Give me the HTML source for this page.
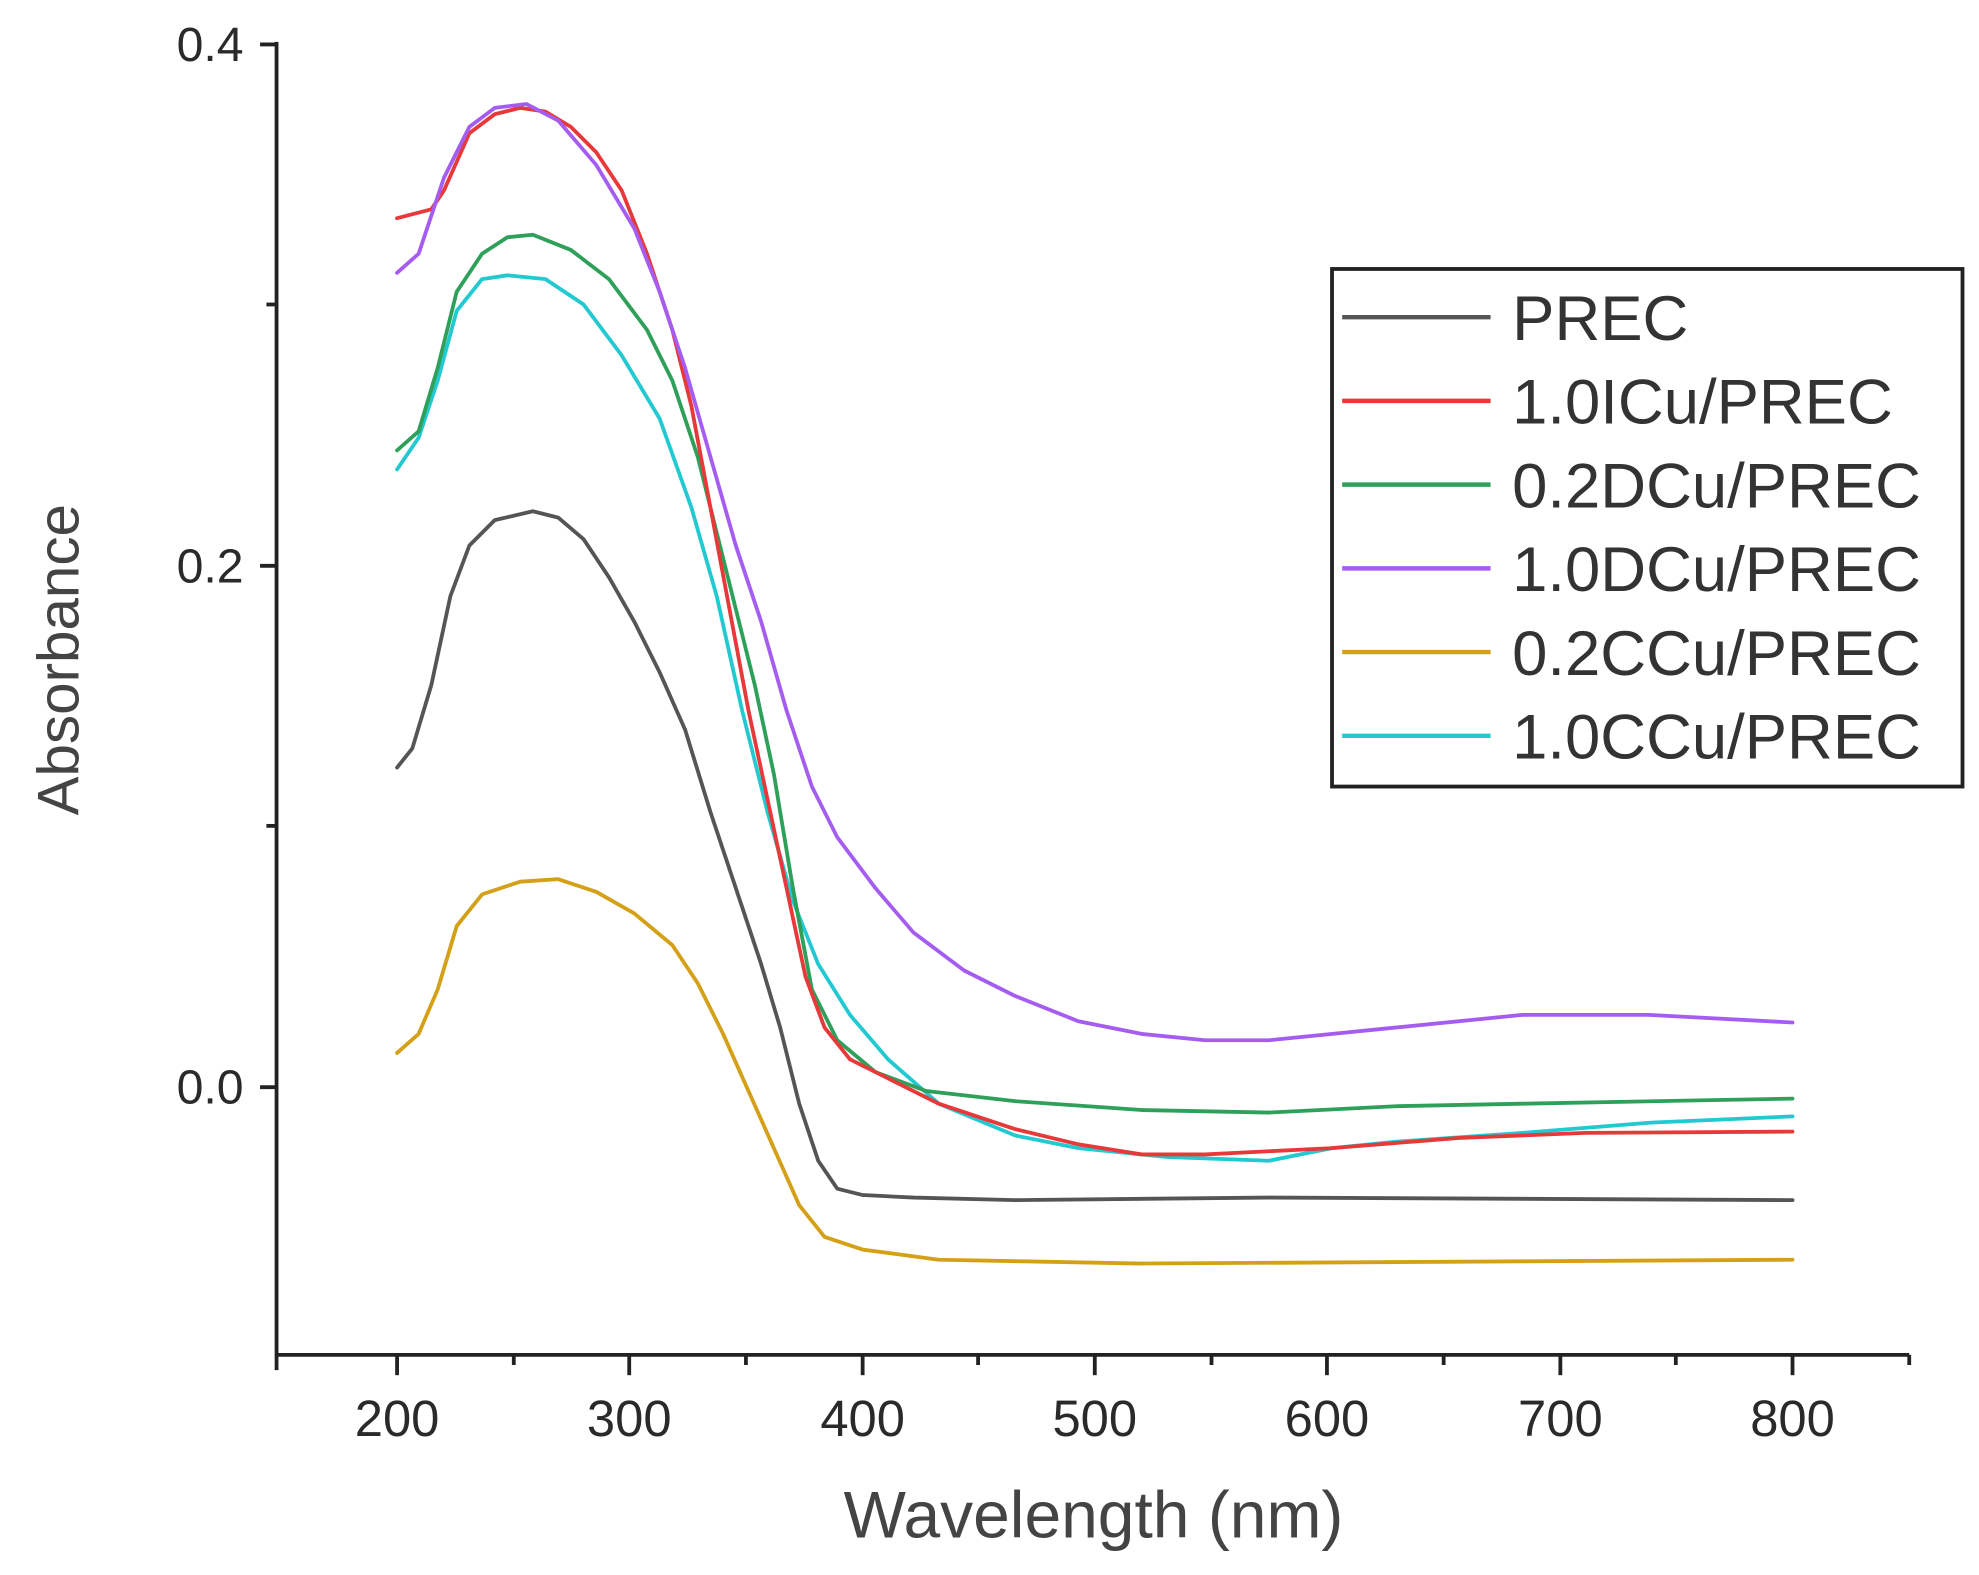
<!DOCTYPE html>
<html><head><meta charset="utf-8"><style>
html,body{margin:0;padding:0;background:#fff;}
svg{display:block;}
text{font-family:"Liberation Sans",sans-serif;}
</style></head><body>
<svg width="1979" height="1575" viewBox="0 0 1560 1241.5" xmlns="http://www.w3.org/2000/svg">
<rect width="1560" height="1241.5" fill="#fff"/>
<g stroke="#222" stroke-width="3" fill="none">
<line x1="218" y1="33" x2="218" y2="1069"/>
<line x1="217" y1="1068" x2="1505" y2="1068"/>
<line x1="205" y1="35" x2="218" y2="35"/>
<line x1="205" y1="446" x2="218" y2="446"/>
<line x1="205" y1="857" x2="218" y2="857"/>
<line x1="210" y1="240" x2="218" y2="240"/>
<line x1="210" y1="651" x2="218" y2="651"/>
<line x1="218" y1="1068" x2="218" y2="1080"/>
<line x1="313" y1="1068" x2="313" y2="1084"/><line x1="496" y1="1068" x2="496" y2="1084"/><line x1="680" y1="1068" x2="680" y2="1084"/><line x1="863" y1="1068" x2="863" y2="1084"/><line x1="1046" y1="1068" x2="1046" y2="1084"/><line x1="1230" y1="1068" x2="1230" y2="1084"/><line x1="1413" y1="1068" x2="1413" y2="1084"/>
<line x1="405" y1="1068" x2="405" y2="1076"/><line x1="588" y1="1068" x2="588" y2="1076"/><line x1="771" y1="1068" x2="771" y2="1076"/><line x1="955" y1="1068" x2="955" y2="1076"/><line x1="1138" y1="1068" x2="1138" y2="1076"/><line x1="1321" y1="1068" x2="1321" y2="1076"/>
<line x1="1505" y1="1068" x2="1505" y2="1076"/>
</g>
<g font-size="38" fill="#2a2a2a" text-anchor="end">
<text x="192" y="48">0.4</text><text x="192" y="459">0.2</text><text x="192" y="870">0.0</text>
</g>
<g font-size="40" fill="#2a2a2a" text-anchor="middle">
<text x="313" y="1132">200</text><text x="496" y="1132">300</text><text x="680" y="1132">400</text><text x="863" y="1132">500</text><text x="1046" y="1132">600</text><text x="1230" y="1132">700</text><text x="1413" y="1132">800</text>
</g>
<text x="862" y="1212" font-size="52" fill="#444" text-anchor="middle">Wavelength (nm)</text>
<text transform="translate(62,520) rotate(-90)" font-size="46" fill="#444" text-anchor="middle">Absorbance</text>
<g fill="none" stroke-width="3" stroke-linejoin="round" stroke-linecap="round">
<polyline stroke="#555" points="313,605 325,590 340,540 355,470 370,430 390,410 420,403 440,408 460,425 480,455 500,490 520,530 540,575 560,640 580,700 600,760 615,810 630,870 645,915 660,937 680,942 720,944 800,946 1000,944 1413,946"/>
<polyline stroke="#d4a017" points="313,830 330,815 345,780 360,730 380,705 410,695 440,693 470,703 500,720 530,745 550,775 570,815 590,860 610,905 630,950 650,975 680,985 740,993 900,996 1413,993"/>
<polyline stroke="#22c9d0" points="313,370 330,345 345,300 360,245 380,220 400,217 430,220 460,240 490,280 520,330 545,400 565,470 585,560 605,640 625,710 645,760 670,800 700,835 740,870 800,895 850,905 920,912 1000,915 1050,905 1100,900 1200,893 1300,885 1413,880"/>
<polyline stroke="#2ea05a" points="313,355 330,340 345,290 360,230 380,200 400,187 420,185 450,197 480,220 510,260 530,300 550,360 565,420 580,480 595,540 610,610 625,700 640,780 660,820 690,845 730,860 800,868 900,875 1000,877 1100,872 1200,870 1413,866"/>
<polyline stroke="#e8393a" points="313,172 340,165 350,150 370,105 390,90 410,85 430,88 450,100 470,120 490,150 510,200 530,260 545,320 560,400 575,480 590,560 605,630 620,700 635,770 650,810 670,835 700,850 740,870 800,890 850,902 900,910 950,910 1050,905 1150,897 1250,893 1413,892"/>
<polyline stroke="#a55cf0" points="313,215 330,200 350,140 370,100 390,85 415,82 440,95 470,130 500,180 520,230 540,290 560,360 580,430 600,490 620,560 640,620 660,660 690,700 720,735 760,765 800,785 850,805 900,815 950,820 1000,820 1100,810 1200,800 1300,800 1413,806"/>
</g>
<rect x="1050" y="212" width="497" height="408" fill="#fff" stroke="#222" stroke-width="3"/>
<g stroke-width="3.5">
<line x1="1058" y1="250" x2="1175" y2="250" stroke="#555"/>
<line x1="1058" y1="316" x2="1175" y2="316" stroke="#e8393a"/>
<line x1="1058" y1="382" x2="1175" y2="382" stroke="#2ea05a"/>
<line x1="1058" y1="448" x2="1175" y2="448" stroke="#a55cf0"/>
<line x1="1058" y1="514" x2="1175" y2="514" stroke="#d4a017"/>
<line x1="1058" y1="580" x2="1175" y2="580" stroke="#22c9d0"/>
</g>
<g font-size="50" fill="#333">
<text x="1192" y="268">PREC</text>
<text x="1192" y="334">1.0ICu/PREC</text>
<text x="1192" y="400">0.2DCu/PREC</text>
<text x="1192" y="466">1.0DCu/PREC</text>
<text x="1192" y="532">0.2CCu/PREC</text>
<text x="1192" y="598">1.0CCu/PREC</text>
</g>
</svg>
</body></html>
